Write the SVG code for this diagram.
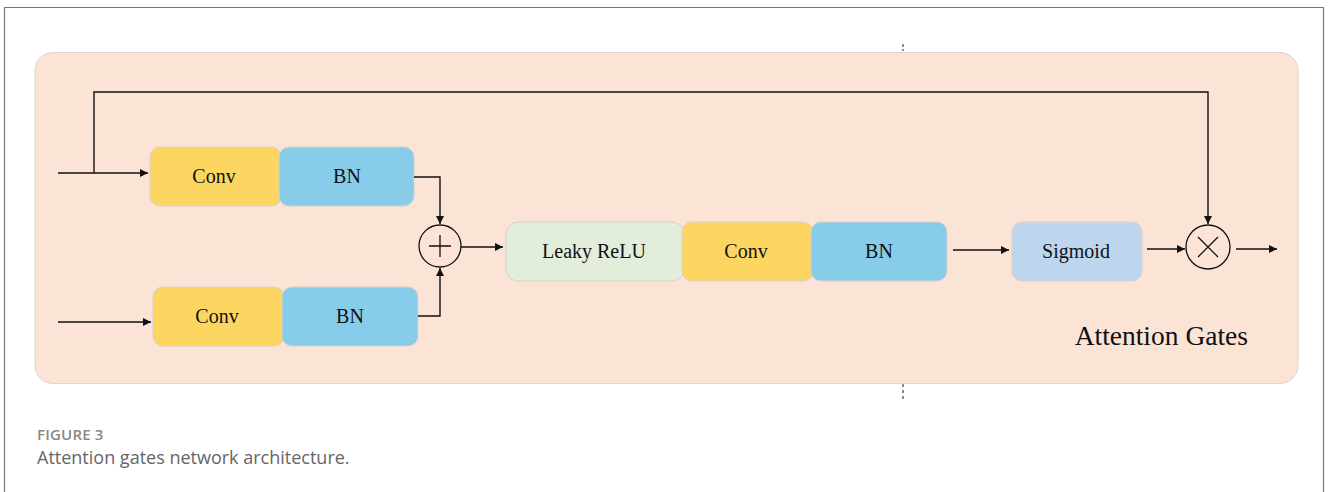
<svg xmlns="http://www.w3.org/2000/svg" width="1328" height="492" viewBox="0 0 1328 492">
<style>
.box{stroke:#d9d0c8;stroke-width:1}
.conv{fill:#fdd662}
.bn{fill:#87cdea}
.leaky{fill:#e2eedb}
.sig{fill:#bdd6ee}
.lbl{font-family:"Liberation Serif",serif;font-size:20px;fill:#111;text-anchor:middle;dominant-baseline:central}
.ln{fill:none;stroke:#111;stroke-width:1.4}
.op{fill:none;stroke:#111;stroke-width:1.3}
</style>
<defs>
<marker id="ah" viewBox="0 0 10 10" refX="10" refY="5" markerWidth="10" markerHeight="8" markerUnits="userSpaceOnUse" orient="auto">
<path d="M0,0 L10,5 L0,10 z" fill="#111"/>
</marker>
</defs>
<rect x="0" y="0" width="1328" height="492" fill="#fff"/>
<path d="M4.5,500 V7.5 H1323.5 V500" fill="none" stroke="#777" stroke-width="1.2"/>
<line x1="903" y1="44" x2="903" y2="51" stroke="#666" stroke-width="1.5" stroke-dasharray="3,2"/>
<line x1="903" y1="384" x2="903" y2="401" stroke="#666" stroke-width="1.5" stroke-dasharray="3,3"/>
<rect id="panel" x="35" y="52.5" width="1263" height="331" rx="18" fill="#fbe3d6" stroke="#dcd6cf" stroke-width="1"/>
<text x="1248" y="345" font-family="Liberation Serif,serif" font-size="27.5" fill="#111" text-anchor="end">Attention Gates</text>

<g id="conv1"><rect class="box conv" x="150" y="147" width="131" height="59" rx="10"/><text class="lbl" x="214" y="176">Conv</text></g>
<g id="bn1"><rect class="box bn" x="279" y="147" width="135" height="59" rx="10"/><text class="lbl" x="347" y="176">BN</text></g>
<g id="conv2"><rect class="box conv" x="153" y="287" width="131" height="59" rx="10"/><text class="lbl" x="217" y="316">Conv</text></g>
<g id="bn2"><rect class="box bn" x="282" y="287" width="136" height="59" rx="10"/><text class="lbl" x="350" y="316">BN</text></g>
<g id="add"><circle class="op" cx="440" cy="246" r="21"/><path class="op" d="M429,246 H451 M440,235 V257"/></g>
<g id="leaky"><rect class="box leaky" x="506" y="222" width="178" height="59" rx="12"/><text class="lbl" x="594" y="251">Leaky ReLU</text></g>
<g id="conv3"><rect class="box conv" x="682" y="222" width="131" height="59" rx="10"/><text class="lbl" x="746" y="251">Conv</text></g>
<g id="bn3"><rect class="box bn" x="811" y="222" width="136" height="59" rx="10"/><text class="lbl" x="879" y="251">BN</text></g>
<g id="sigmoid"><rect class="box sig" x="1012" y="222" width="130" height="59" rx="10"/><text class="lbl" x="1076" y="251">Sigmoid</text></g>
<g id="mul"><circle class="op" cx="1208" cy="247" r="22"/><path class="op" d="M1198,237 L1218,257 M1218,237 L1198,257"/></g>

<g id="connectors">
<path class="ln" d="M58,173 H148" marker-end="url(#ah)"/>
<path class="ln" d="M94,173 V92 H1208 V224" marker-end="url(#ah)"/>
<path class="ln" d="M58,322 H151" marker-end="url(#ah)"/>
<path class="ln" d="M414,177 H440 V224" marker-end="url(#ah)"/>
<path class="ln" d="M418,316 H440 V268" marker-end="url(#ah)"/>
<path class="ln" d="M461,247 H503" marker-end="url(#ah)"/>
<path class="ln" d="M953,250 H1009" marker-end="url(#ah)"/>
<path class="ln" d="M1147,249 H1185" marker-end="url(#ah)"/>
<path class="ln" d="M1236,249 H1277" marker-end="url(#ah)"/>
</g>

<text x="37" y="440" font-family="Open Sans,sans-serif" font-size="15" font-weight="600" fill="#888" letter-spacing="0.2">FIGURE 3</text>
<text x="37" y="464" font-family="Open Sans,sans-serif" font-size="18" fill="#666">Attention gates network architecture.</text>
</svg>
